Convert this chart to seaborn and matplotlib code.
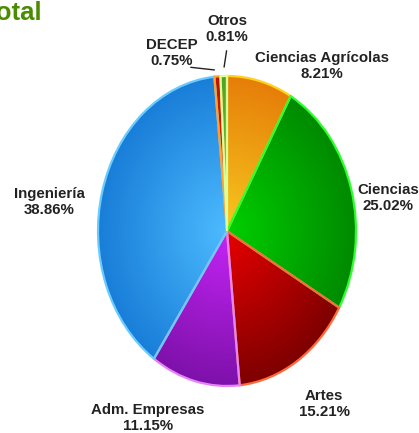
import numpy as np
import matplotlib
matplotlib.use("Agg")
import matplotlib.pyplot as plt
from matplotlib.colors import LinearSegmentedColormap
import seaborn as sns

# Data
labels = ["Ciencias Agrícolas", "Ciencias", "Artes", "Adm. Empresas",
          "Ingeniería", "DECEP", "Otros"]
shares = [8.21, 25.02, 15.21, 11.15, 38.86, 0.75, 0.81]

# Styling: (light at centre, dark at rim, edge colour)
light_colors = ["#F7C81E", "#00CF00", "#E80000", "#C424F5", "#4DBBFF", "#E43000", "#7FD040"]
dark_colors = ["#E57A08", "#008600", "#780000", "#7A10A6", "#167BD6", "#C01000", "#4FA020"]
edge_colors = ["#FFD21A", "#2CFF2C", "#FF6A3A", "#E584F5", "#6BCBFF", "#FFA030", "#D8FF9C"]

# label centres in pixel coords (from top-left)
label_pos = [(322, 66), (388, 198), (324, 404), (148, 418), (49, 202), (172, 53), (227, 29)]

W, H = 419, 433
CX, CY, RX, RY = 227, 231, 129, 155

sns.set_theme(style="white")
plt.rcParams["font.family"] = ["Liberation Sans", "DejaVu Sans"]

fig = plt.figure(figsize=(W / 100, H / 100), dpi=100)
ax = fig.add_axes([0, 0, 1, 1])

wedges, _ = ax.pie(shares, startangle=90, counterclock=False, radius=1,
                   wedgeprops=dict(linewidth=1.6))
ax.set_aspect("auto")
ax.axis("off")

# radial gradient fill clipped to each wedge
gx, gy = np.meshgrid(np.linspace(-1.05, 1.05, 400), np.linspace(-1.05, 1.05, 400))
rr = np.sqrt(gx ** 2 + gy ** 2)
for w, lc, dc, ec in zip(wedges, light_colors, dark_colors, edge_colors):
    w.set_facecolor("none")
    w.set_edgecolor(ec)
    w.set_zorder(3)
    cmap = LinearSegmentedColormap.from_list("g", [lc, dc])
    im = ax.imshow(rr, extent=(-1.05, 1.05, -1.05, 1.05), origin="lower",
                   cmap=cmap, vmin=0, vmax=1.05, aspect="auto", zorder=2)
    im.set_clip_path(w)
ax.set_xlim(-CX / RX, (W - CX) / RX)
ax.set_ylim(-(H - CY) / RY, CY / RY)

# labels
for lab, val, (px, py) in zip(labels, shares, label_pos):
    fig.text(px / W, 1 - py / H, f"{lab}\n{val:.2f}%", ha="center", va="center",
             fontsize=10.8, fontweight="bold", color="#222222", linespacing=1.15)

# leader lines for the tiny slices
starts = {"DECEP": (188, 67), "Otros": (227, 48)}
cum = np.cumsum([0] + shares)
for i, lab in enumerate(labels):
    if lab in starts:
        mid = np.deg2rad(90 - 3.6 * (cum[i] + shares[i] / 2))
        sx, sy = starts[lab]
        ax.annotate("", xy=(1.04 * np.cos(mid), 1.04 * np.sin(mid)),
                    xytext=((sx - CX) / RX, (CY - sy) / RY),
                    arrowprops=dict(arrowstyle="-", color="#222222", lw=1.0))

# title, cropped at the left edge as in the source image
fig.text(42 / W, 1 - 20 / H, "Total", ha="right", va="baseline", fontsize=18.5,
         fontweight="bold", color="#4A8C00")

fig.savefig("out.png", dpi=100)
